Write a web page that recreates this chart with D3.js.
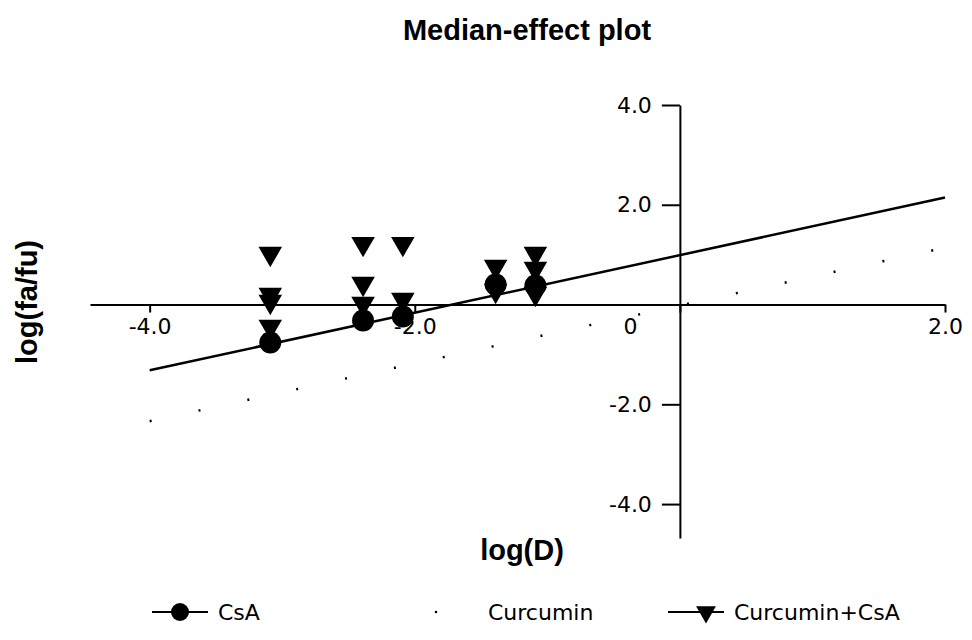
<!DOCTYPE html>
<html>
<head>
<meta charset="utf-8">
<script src="https://cdn.jsdelivr.net/npm/d3@7"></script>
<style>
  body { margin: 0; background: #fff; }
  svg { display: block; }
</style>
</head>
<body>
<svg id="chart" width="972" height="640"></svg>
<script>
// Median-effect plot: log(fa/fu) against log(D)
var doseLogs = [-3.09, -2.39, -2.09, -1.39, -1.09];
var csaValues = [-0.76, -0.32, -0.24, 0.40, 0.38];
// Curcumin+CsA points, several per dose
var comboValues = [
    [1.02, 0.20, 0.06, -0.44],
    [1.22, 0.42, 0.02],
    [1.22, 0.10],
    [0.76, 0.28],
    [1.02, 0.72, 0.22]
];
// fitted median-effect lines (slope, intercept) and the x range they span
var csaFit = [0.577, 0.99];
var curcuminFit = [0.58, -0.02];
var fitRange = [-4.0, 2.0];

var xTicks = [-4, -2, 0, 2];
var yTicks = [4, 2, -2, -4];
var legendLabels = ["CsA", "Curcumin", "Curcumin+CsA"];

var svg = d3.select("#chart");

var x = d3.scaleLinear().domain([-4.45, 2.0]).range([90, 945]);
var y = d3.scaleLinear().domain([-4.68, 4.0]).range([538, 105]);

// title and axis titles
svg.append("text")
    .attr("x", 527).attr("y", 40)
    .attr("text-anchor", "middle")
    .attr("font-family", "Liberation Sans, Arial, sans-serif")
    .attr("font-weight", "bold")
    .attr("font-size", 29)
    .text("Median-effect plot");

svg.append("text")
    .attr("transform", "translate(37,302) rotate(-90)")
    .attr("text-anchor", "middle")
    .attr("font-family", "Liberation Sans, Arial, sans-serif")
    .attr("font-weight", "bold")
    .attr("font-size", 29)
    .text("log(fa/fu)");

svg.append("text")
    .attr("x", 522).attr("y", 560)
    .attr("text-anchor", "middle")
    .attr("font-family", "Liberation Sans, Arial, sans-serif")
    .attr("font-weight", "bold")
    .attr("font-size", 29)
    .text("log(D)");

// x axis sits on y = 0
var xAxis = d3.axisBottom(x)
    .tickValues(xTicks)
    .tickSizeInner(8)
    .tickSizeOuter(0)
    .tickPadding(6)
    .tickFormat(function(d) { return d === 0 ? "0" : d.toFixed(1); });

var xg = svg.append("g")
    .attr("transform", "translate(0," + y(0) + ")")
    .call(xAxis);

// the "0" label is drawn left of the y axis in the original
xg.selectAll(".tick text")
    .attr("dx", function(d) { return d === 0 ? -50 : 0; });

// y axis sits on x = 0
var yAxis = d3.axisLeft(y)
    .tickValues(yTicks)
    .tickSizeInner(18)
    .tickSizeOuter(0)
    .tickPadding(10)
    .tickFormat(function(d) { return d.toFixed(1); });

var yg = svg.append("g")
    .attr("transform", "translate(" + x(0) + ",0)")
    .call(yAxis);

svg.selectAll(".domain, .tick line")
    .attr("stroke", "#000")
    .attr("stroke-width", 2);

svg.selectAll(".tick text")
    .attr("font-family", "DejaVu Sans, sans-serif")
    .attr("font-size", 22)
    .attr("fill", "#000");

// fitted lines
function fitLine(fit) {
    return fitRange.map(function(v) { return [x(v), y(fit[0] * v + fit[1])]; });
}

svg.append("path")
    .attr("d", d3.line()(fitLine(curcuminFit)))
    .attr("fill", "none")
    .attr("stroke", "#000")
    .attr("stroke-width", 2.5)
    .attr("stroke-dasharray", "2,48");

svg.append("path")
    .attr("d", d3.line()(fitLine(csaFit)))
    .attr("fill", "none")
    .attr("stroke", "#000")
    .attr("stroke-width", 2.5);

// markers
var triangle = d3.symbol().type(d3.symbolTriangle).size(240);

var comboPoints = [];
comboValues.forEach(function(vals, i) {
    vals.forEach(function(v) { comboPoints.push([doseLogs[i], v]); });
});

svg.append("g").selectAll("path")
    .data(comboPoints)
    .enter()
    .append("path")
    .attr("d", triangle)
    .attr("transform", function(d) {
        return "translate(" + x(d[0]) + "," + y(d[1]) + ") rotate(180)";
    })
    .attr("fill", "#000");

svg.append("g").selectAll("circle")
    .data(csaValues)
    .enter()
    .append("circle")
    .attr("cx", function(d, i) { return x(doseLogs[i]); })
    .attr("cy", function(d) { return y(d); })
    .attr("r", 11)
    .attr("fill", "#000");

// legend along the bottom
var legendX = [152, 420, 668];
var legendY = 612;
var legend = svg.append("g").selectAll("g")
    .data(legendLabels)
    .enter()
    .append("g")
    .attr("transform", function(d, i) { return "translate(" + legendX[i] + "," + legendY + ")"; });

legend.filter(function(d, i) { return i !== 1; })
    .append("line")
    .attr("x1", 0).attr("x2", 56)
    .attr("stroke", "#000")
    .attr("stroke-width", 2);

legend.filter(function(d, i) { return i === 0; })
    .append("circle")
    .attr("cx", 28).attr("r", 9)
    .attr("fill", "#000");

legend.filter(function(d, i) { return i === 1; })
    .append("circle")
    .attr("cx", 16).attr("r", 1.3)
    .attr("fill", "#000");

legend.filter(function(d, i) { return i === 2; })
    .append("path")
    .attr("d", d3.symbol().type(d3.symbolTriangle).size(170))
    .attr("transform", "translate(38,0) rotate(180)")
    .attr("fill", "#000");

legend.append("text")
    .attr("x", function(d, i) { return i === 1 ? 68 : 66; })
    .attr("dy", "0.36em")
    .attr("font-family", "DejaVu Sans, sans-serif")
    .attr("font-size", 22)
    .text(function(d) { return d; });
</script>
</body>
</html>
